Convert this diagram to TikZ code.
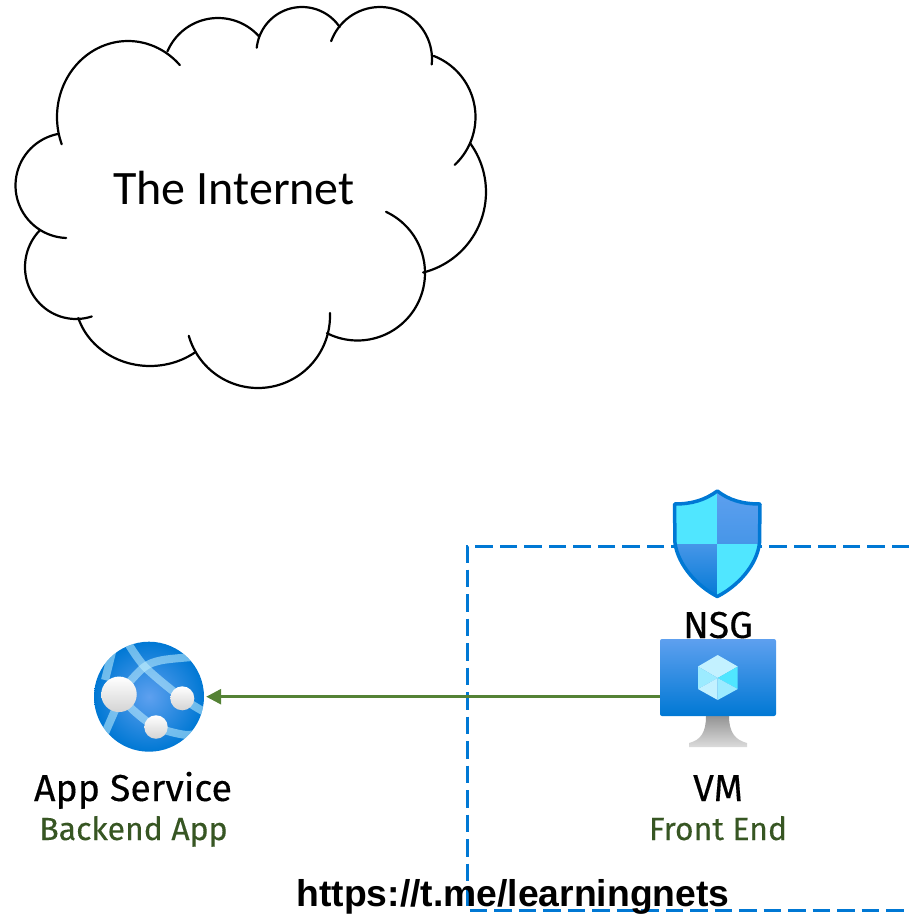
\documentclass[tikz,border=0pt]{standalone}
\usepackage{fontspec}
\setmainfont[FakeBold=0.25]{Fira Sans}
\newfontfamily\cloudfont{Carlito}
\newfontfamily\urlfont{Liberation Sans}
\usetikzlibrary{arrows.meta}
\definecolor{azdark}{HTML}{0078D4}
\definecolor{azmid}{HTML}{5EA0EF}
\definecolor{azlight}{HTML}{50E6FF}
\definecolor{azpale}{HTML}{C3F1FF}
\definecolor{azsoft}{HTML}{9CEBFF}
\definecolor{greenline}{HTML}{548235}
\definecolor{greentext}{HTML}{375623}
\tikzset{
  cloudarc/.style={draw=black,line width=2.2pt,line cap=round},
  band/.style={draw=azpale,draw opacity=0.55,line width=8pt},
  lab/.style={inner sep=0pt,anchor=base,text=black,font=\fontsize{37.5}{37.5}\selectfont},
  sublab/.style={inner sep=0pt,anchor=base,text=greentext,font=\fontsize{32}{32}\selectfont},
  ball/.style={circle,draw=none,top color=white,bottom color=black!17}
}
% centre x, centre y, x radius, y radius, start angle, end angle (pixel coordinates, clockwise on the page)
\newcommand{\cloudpiece}[6]{\draw[cloudarc] plot[domain=#5:#6,samples=40,smooth] ({#1+#3*cos(\x)},{#2+#4*sin(\x)});}
\begin{document}
\begin{tikzpicture}[x=1pt,y=-1pt]
\useasboundingbox (0,0) rectangle (909,914);
% cloud
\cloudpiece{128}{117}{71}{76}{159}{317}
\cloudpiece{218}{73}{55}{55}{203}{318}
\cloudpiece{302}{52.5}{45.5}{45.5}{186}{326}
\cloudpiece{380}{59}{52}{52}{200}{366}
\cloudpiece{410}{117}{65.5}{65.5}{-69}{47}
\cloudpiece{403}{192}{83}{83}{-36}{76}
\cloudpiece{357.5}{273}{67.5}{67.5}{-65}{117}
\cloudpiece{258}{316}{72}{72}{-2.4}{164}
\cloudpiece{150}{298}{75}{68}{53.5}{163}
\cloudpiece{76}{267}{51}{52}{72}{225}
\cloudpiece{68}{185.5}{52.5}{52.5}{92}{259}
\node[inner sep=0pt,anchor=base] (internet) at (234,204) {\cloudfont\fontsize{48}{48}\selectfont The Internet};
% dashed subnet
\draw[azdark,line width=3pt,dash pattern=on 17.5pt off 7pt] (909,546) -- (467,546) -- (467,910) -- (909,910);
% shield
\def\shieldpath{(717.3,491) .. controls (705,500) and (692,504) .. (674.5,504) -- (675,543) .. controls (678,565) and (697,586) .. (717.3,596.5) .. controls (738,586) and (757,565) .. (759.5,543) -- (760,504) .. controls (742,504) and (729,500) .. (717.3,491) -- cycle}
\begin{scope}
  \clip \shieldpath;
  \fill[azlight] (670,488) rectangle (717.3,544);
  \shade[top color=azmid,bottom color=azmid!75!azdark] (717.3,488) rectangle (765,544);
  \shade[top color=azmid!75!azdark,bottom color=azdark] (670,544) rectangle (717.3,600);
  \fill[azlight] (717.3,544) rectangle (765,600);
\end{scope}
\draw[azdark,line width=3.5pt,line join=round] \shieldpath;
\node[lab] (nsg) at (718,638) {NSG};
% VM
\path[top color=black!42,bottom color=black!14] (706,716) -- (729,716) .. controls (729,732) and (735,740) .. (747,743) -- (747,747) -- (689,747) -- (689,743) .. controls (701,740) and (706,732) .. (706,716) -- cycle;
\node[rectangle,rounded corners=2pt,minimum width=116pt,minimum height=77pt,inner sep=0pt,top color=azmid,bottom color=azdark] (vm) at (718,677.5) {};
\fill[azpale] (717.7,655) -- (737.7,666.5) -- (717.7,678) -- (698,666.5) -- cycle;
\fill[azlight] (737.7,666.5) -- (737.7,689) -- (717.7,678) -- cycle;
\fill[azsoft] (698,666.5) -- (717.7,678) -- (698,689) -- cycle;
\fill[azpale] (698,689) -- (717.7,678) -- (717.7,700) -- cycle;
\fill[azsoft] (737.7,689) -- (717.7,678) -- (717.7,700) -- cycle;
\node[lab] (vmlab) at (718,801) {VM};
\node[sublab] (vmsub) at (718,840) {Front End};
% App service
\node[circle,minimum size=110pt,inner sep=0pt,inner color=azmid,outer color=azdark] (app) at (149,696.7) {};
\begin{scope}
  \clip (149,696.7) circle (55);
  \draw[band] plot[smooth] coordinates {(126,640)(145,667)(182,698)(208,714)};
  \draw[band] plot[smooth] coordinates {(119,694)(143,668)(163,660)(206,656)};
  \draw[band] plot[smooth] coordinates {(112,652)(105,680)};
  \draw[band] plot[smooth] coordinates {(116,708)(102,740)};
  \draw[band] plot[smooth] coordinates {(119,694)(133,710)(156,727)(187,735)(206,730)};
\end{scope}
\node[ball,minimum size=35.5pt,inner sep=0pt] (ball1) at (119,694.3) {};
\node[ball,minimum size=24pt,inner sep=0pt] (ball2) at (182.3,698.3) {};
\node[ball,minimum size=23.5pt,inner sep=0pt] (ball3) at (156,727) {};
\node[lab] (applab) at (133,801) {App Service};
\node[sublab] (appsub) at (133.5,840) {Backend App};
% connector
\draw[greenline,line width=2.8pt,-{Triangle[length=15pt,width=15pt]},shorten >=2pt] (vm.west |- app.east) -- (app.east);
% url
\node[inner sep=0pt,anchor=base] (url) at (513,906) {\urlfont\bfseries\fontsize{37.3}{37.3}\selectfont https://t.me/learningnets};
\end{tikzpicture}
\end{document}
